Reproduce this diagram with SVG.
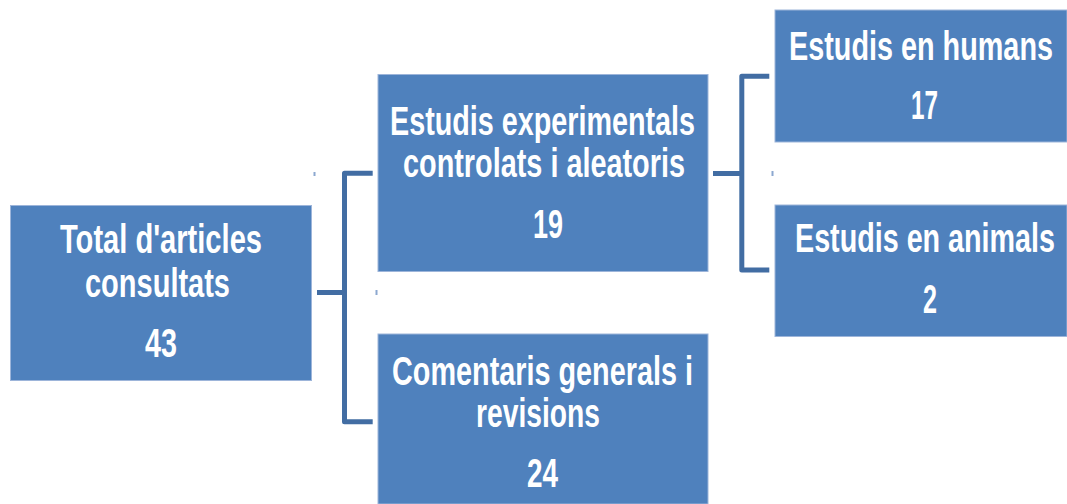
<svg xmlns="http://www.w3.org/2000/svg" width="1067" height="504" viewBox="0 0 1067 504">
<style>
.box{fill:#4F81BD;stroke:#9DB5DA;stroke-width:1}
.t{font-family:"Liberation Sans",Arial,sans-serif;font-weight:bold;font-size:41px;fill:#FFFFFF}
.c{fill:none;stroke:#426DA3;stroke-width:5;stroke-linejoin:round;stroke-linecap:butt}
.tick{fill:#8CA8D0}
</style>
<rect width="1067" height="504" fill="#FFFFFF"/>
<g id="connectors">
<path class="c" d="M317,292.5 H344.5 M372.7,173.3 H344.5 V421.7 H372.7"/>
<path class="c" d="M713,173.5 H741.8 M769.3,76.3 H741.8 V270 H769.3"/>
<rect class="tick" x="313.5" y="172" width="2" height="4"/>
<rect class="tick" x="375.5" y="290" width="2" height="5"/>
<rect class="tick" x="771.5" y="171" width="2" height="5"/>
</g>
<g id="node-total">
<rect class="box" x="10.5" y="205.5" width="301" height="175"/>
<text class="t" x="60" y="253" textLength="202" lengthAdjust="spacingAndGlyphs">Total d'articles</text>
<text class="t" x="85" y="297" textLength="145" lengthAdjust="spacingAndGlyphs">consultats</text>
<text class="t" x="145" y="357" textLength="32" lengthAdjust="spacingAndGlyphs">43</text>
</g>
<g id="node-experimentals">
<rect class="box" x="378" y="74.5" width="330" height="197"/>
<text class="t" x="390" y="135" textLength="305" lengthAdjust="spacingAndGlyphs">Estudis experimentals</text>
<text class="t" x="403" y="177" textLength="282" lengthAdjust="spacingAndGlyphs">controlats i aleatoris</text>
<text class="t" x="533" y="238" textLength="30" lengthAdjust="spacingAndGlyphs">19</text>
</g>
<g id="node-comentaris">
<rect class="box" x="378" y="334" width="330" height="170"/>
<text class="t" x="392" y="385" textLength="301" lengthAdjust="spacingAndGlyphs">Comentaris generals i</text>
<text class="t" x="476" y="427" textLength="124" lengthAdjust="spacingAndGlyphs">revisions</text>
<text class="t" x="527" y="487" textLength="31" lengthAdjust="spacingAndGlyphs">24</text>
</g>
<g id="node-humans">
<rect class="box" x="775" y="10" width="292" height="132"/>
<text class="t" x="789" y="60" textLength="264" lengthAdjust="spacingAndGlyphs">Estudis en humans</text>
<text class="t" x="911" y="119" textLength="27" lengthAdjust="spacingAndGlyphs">17</text>
</g>
<g id="node-animals">
<rect class="box" x="775" y="205" width="292" height="131.5"/>
<text class="t" x="795" y="252" textLength="260" lengthAdjust="spacingAndGlyphs">Estudis en animals</text>
<text class="t" x="923" y="313" textLength="14" lengthAdjust="spacingAndGlyphs">2</text>
</g>
</svg>
